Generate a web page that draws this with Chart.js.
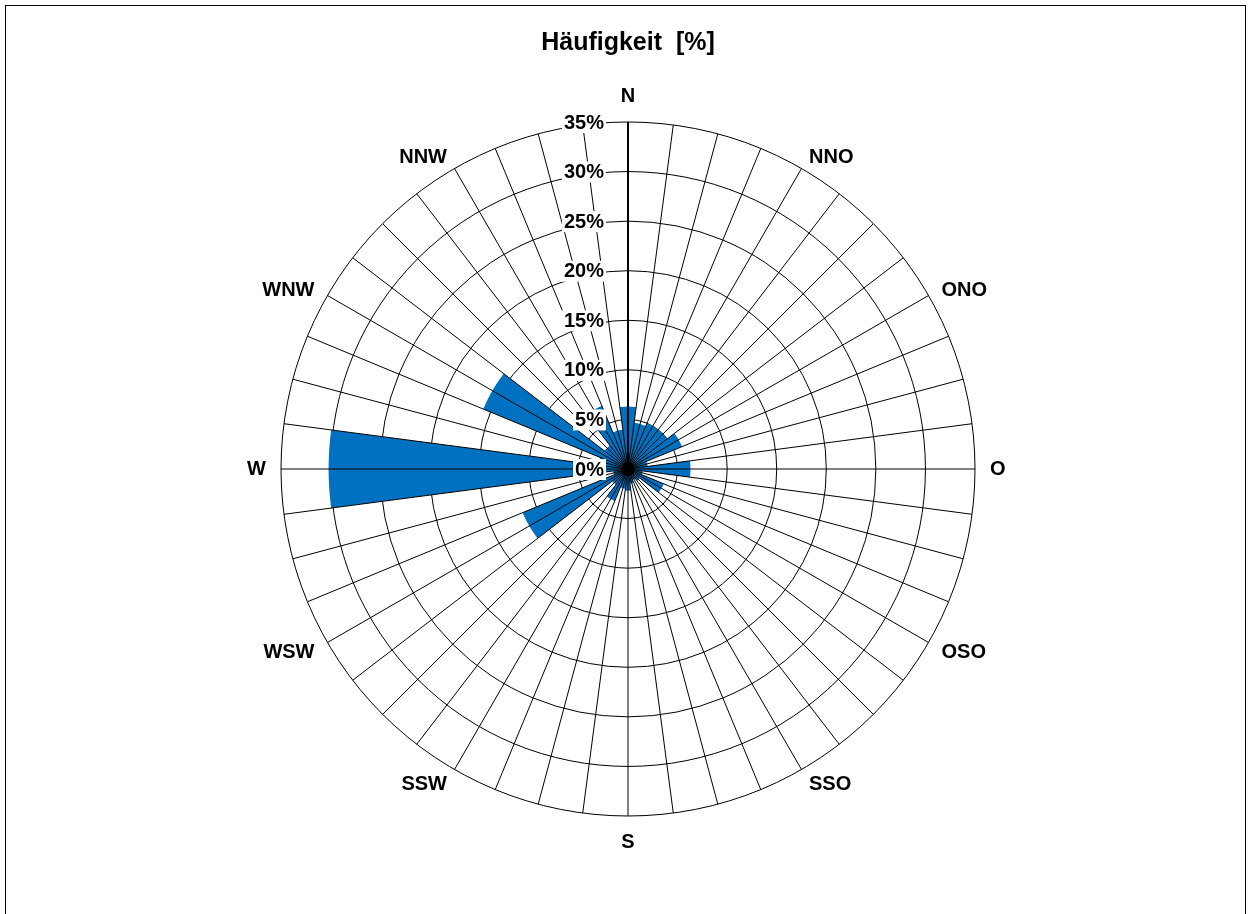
<!DOCTYPE html>
<html lang="de">
<head>
<meta charset="utf-8">
<title>Windrose Häufigkeit</title>
<script src="https://cdn.jsdelivr.net/npm/chart.js@4.4.1/dist/chart.umd.min.js"></script>
<style>
  html, body { margin: 0; padding: 0; background: #fff; }
  #rahmen { position: absolute; left: 5px; top: 5px; width: 1241px; height: 930px; border: 1px solid #000; box-sizing: border-box; }
  #wrap { position: absolute; left: 0; top: 0; width: 1251px; height: 914px; }
</style>
</head>
<body>
<div id="rahmen"></div>
<div id="wrap"><canvas id="windrose"></canvas></div>
<script>
// ------------------ DATEN ------------------
// Sektormitten in Grad (von Nord im Uhrzeigersinn), 24 Sektoren à 15°
const sektorWinkel = [0, 15, 30, 45, 60, 75, 90, 105, 120, 135, 150, 165,
                      180, 195, 210, 225, 240, 255, 270, 285, 300, 315, 330, 345];
// Häufigkeit je Sektor in %
const haeufigkeit = [6.3, 4.7, 5.0, 5.0, 5.9, 2.0, 6.3, 1.5, 3.9, 1.5, 1.2, 1.5,
                     2.2, 2.0, 3.5, 2.0, 11.5, 1.5, 30.2, 3.0, 15.8, 3.0, 6.9, 4.0];
// Richtungsbeschriftung aussen
const richtungen = ['N', 'NNO', 'ONO', 'O', 'OSO', 'SSO', 'S', 'SSW', 'WSW', 'W', 'WNW', 'NNW'];
const richtungWinkel = [0, 30, 60, 90, 120, 150, 180, 210, 240, 270, 300, 330];
// Ringe der Skala
const skalaWerte = [0, 5, 10, 15, 20, 25, 30, 35];
const titel = 'Häufigkeit  [%]';

const BLAU = '#0070c0';
const SCHRIFT = '"Liberation Sans", Arial, Helvetica, sans-serif';

// Jeder Sektor wird in zwei Halbsektoren à 7,5° geteilt -> Speichen alle 7,5°
const HALB = 7.5;
const anzahlHalb = 360 / HALB;
const halbLabels = [];
const halbWerte = [];
for (let k = 0; k < anzahlHalb; k++) {
    const ri = richtungWinkel.indexOf(k * HALB);
    halbLabels.push(ri >= 0 ? richtungen[ri] : '');
    // Halbsektor k liegt zwischen k*7,5° und (k+1)*7,5° -> gehört zum Sektor ceil(k/2)
    halbWerte.push(haeufigkeit[Math.ceil(k / 2) % sektorWinkel.length]);
}

// Speichen, Skala und Richtungen über den Balken zeichnen
const rosePlugin = {
    id: 'rose',
    afterDatasetsDraw(chart) {
        const r = chart.scales.r;
        const ctx = chart.ctx;
        ctx.save();

        // Speichen
        ctx.strokeStyle = '#000';
        for (let k = 0; k < anzahlHalb; k++) {
            const p = r.getPointPosition(k, r.drawingArea);
            ctx.lineWidth = k === 0 ? 2 : 1;
            ctx.beginPath();
            ctx.moveTo(r.xCenter, r.yCenter);
            ctx.lineTo(p.x, p.y);
            ctx.stroke();
        }
        // dichter Knoten in der Mitte
        ctx.fillStyle = '#000';
        ctx.beginPath();
        ctx.arc(r.xCenter, r.yCenter, 7, 0, Math.PI * 2);
        ctx.fill();

        // Skalenbeschriftung links der Nordachse
        ctx.font = 'bold 20px ' + SCHRIFT;
        ctx.textAlign = 'right';
        ctx.textBaseline = 'middle';
        skalaWerte.forEach(v => {
            const y = r.yCenter - r.getDistanceFromCenterForValue(v);
            const txt = v + '%';
            const w = ctx.measureText(txt).width;
            const x = r.xCenter - 24;
            ctx.fillStyle = '#fff';
            ctx.fillRect(x - w - 2, y - 10, w + 4, 21);
            ctx.fillStyle = '#000';
            ctx.fillText(txt, x, y + 1);
        });

        // Himmelsrichtungen
        ctx.font = 'bold 20px ' + SCHRIFT;
        ctx.fillStyle = '#000';
        ctx.textBaseline = 'middle';
        richtungen.forEach((name, i) => {
            const w = richtungWinkel[i];
            const mitte = (w === 0 || w === 180);
            const diagonal = (w % 90 !== 0);
            const p = r.getPointPosition(w / HALB, r.drawingArea + (mitte ? 26 : 15));
            ctx.textAlign = mitte ? 'center' : (w < 180 ? 'left' : 'right');
            ctx.fillText(name, p.x, p.y + (diagonal ? 2 : 0));
        });

        ctx.restore();
    }
};

const ctx = document.getElementById('windrose').getContext('2d');
const chart = new Chart(ctx, {
    type: 'polarArea',
    data: {
        labels: halbLabels,
        datasets: [{
            label: 'Häufigkeit',
            data: halbWerte,
            backgroundColor: BLAU,
            borderWidth: 0
        }]
    },
    options: {
        responsive: true,
        maintainAspectRatio: false,
        animation: false,
        layout: { padding: { left: 281, right: 276, top: 0, bottom: 97 } },
        plugins: {
            legend: { display: false },
            tooltip: { enabled: false },
            title: {
                display: true,
                text: titel,
                color: '#000',
                font: { family: SCHRIFT, size: 25, weight: 'bold' },
                padding: { top: 28, bottom: 64 }
            }
        },
        scales: {
            r: {
                min: 0,
                max: 35,
                startAngle: 0,
                ticks: { display: false, stepSize: 5 },
                grid: { circular: true, color: '#000', lineWidth: 1 },
                angleLines: { display: false },
                pointLabels: { display: false }
            }
        }
    },
    plugins: [rosePlugin]
});
</script>
</body>
</html>
